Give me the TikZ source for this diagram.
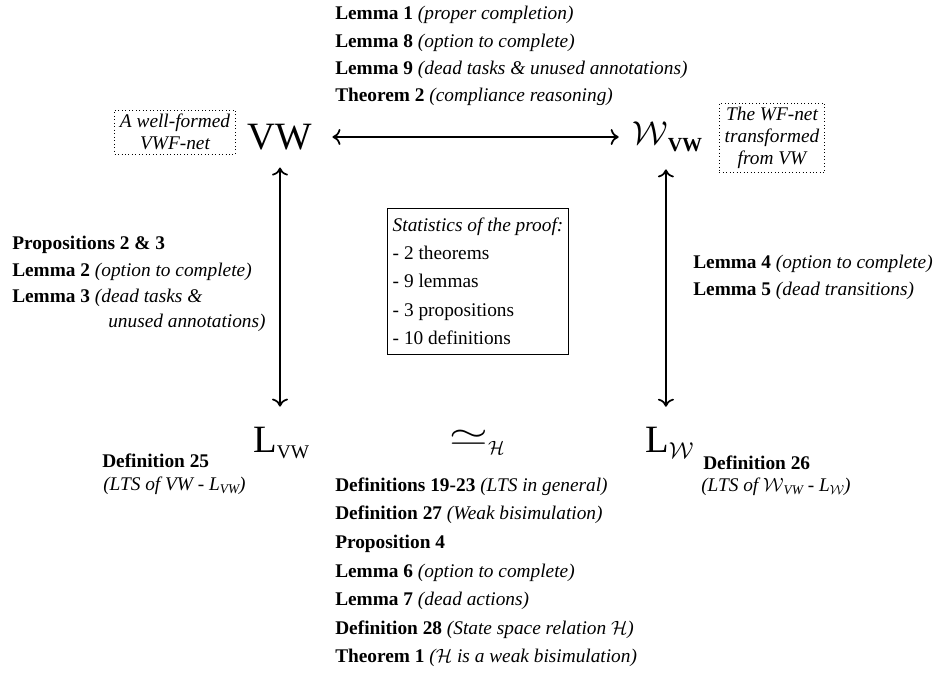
\documentclass[tikz,border=0pt]{standalone}
\usepackage{fontspec}
\usepackage{amsmath}
\usepackage{graphicx}
\setmainfont{Liberation Serif}
\usetikzlibrary{arrows.meta}

% bold item name followed by an italic remark
\newcommand{\itm}[2]{\textbf{#1} \textit{#2}}

\begin{document}
\begin{tikzpicture}[x=0.75pt,y=-0.75pt,
  txt/.style={anchor=base west, inner sep=0pt, font=\fontsize{14.5}{17}\selectfont},
  big/.style={inner sep=0pt, font=\fontsize{29}{30}\selectfont},
  note/.style={draw, dotted, line width=0.6pt, align=center,
    font=\fontsize{14.5}{16.5}\selectfont\itshape, inner xsep=4pt, inner ysep=3pt},
  stat/.style={draw, line width=0.6pt, align=left, anchor=north west,
    font=\fontsize{14.5}{21.2}\selectfont, inner xsep=4pt, inner ysep=7pt},
  dbl/.style={{Computer Modern Rightarrow[length=6pt,width=12pt]}-{Computer Modern Rightarrow[length=6pt,width=12pt]}, line width=1.3pt}
]
\useasboundingbox (0,0) rectangle (936,673);

% the four corner objects and the bisimulation sign
\node[big] (vw) at (280,137) {VW};
\node[big, anchor=west] (wvw) at (632,137) {$\mathcal{W}$\raisebox{-5pt}{\fontsize{15}{15}\selectfont\textbf{VW}}};
\node[big, anchor=west] (lvw) at (253,443) {L\raisebox{-5pt}{\fontsize{14.5}{14.5}\selectfont VW}};
\node[big, anchor=west] (lw) at (645,443) {L\raisebox{-5pt}{\fontsize{17}{17}\selectfont$\mathcal{W}$}};
\node[big] (sim) at (477,442) {\scalebox{1.5}[1]{$\simeq$}\raisebox{-7pt}{\fontsize{14}{14}\selectfont$\mathcal{H}$}};

% connectors
\draw[dbl, shorten <=15pt, shorten >=10pt] (vw.east) -- (wvw.west);
\draw[dbl, shorten <=13pt, shorten >=15pt] (vw.south) -- (vw.south |- lvw.north);
\draw[dbl, shorten <=13pt, shorten >=15pt] ([xshift=-1pt]wvw.south) -- ([xshift=-1pt]wvw.south |- lw.north);

% side notes
\node[note] (nleft) at (175,132) {A well-formed\\VWF-net};
\node[note] (nright) at (772,138) {The WF-net\\transformed\\from VW};

% statistics box
\node[stat] (stats) at (387,208) {\textit{Statistics of the proof:}\\- 2 theorems\\- 9 lemmas\\- 3 propositions\\- 10 definitions};

% top block
\node[txt] (t1) at (335,20) {\itm{Lemma 1}{(proper completion)}};
\node[txt] (t2) at (335,48) {\itm{Lemma 8}{(option to complete)}};
\node[txt] (t3) at (335,75) {\itm{Lemma 9}{(dead tasks \& unused annotations)}};
\node[txt] (t4) at (335,102) {\itm{Theorem 2}{(compliance reasoning)}};

% left block
\node[txt] (l1) at (12,250) {\textbf{Propositions 2 \& 3}};
\node[txt] (l2) at (12,277) {\itm{Lemma 2}{(option to complete)}};
\node[txt] (l3) at (12,303) {\itm{Lemma 3}{(dead tasks \&}};
\node[txt] (l4) at (108,328) {\textit{unused annotations)}};

% right block
\node[txt] (r1) at (693,269) {\itm{Lemma 4}{(option to complete)}};
\node[txt] (r2) at (693,296) {\itm{Lemma 5}{(dead transitions)}};

% definitions of the two transition systems
\node[txt] (d25) at (102,468) {\textbf{Definition 25}};
\node[txt] (d25b) at (103,491) {\textit{(LTS of VW - L\raisebox{-2pt}{\fontsize{10}{10}\selectfont VW})}};
\node[txt] (d26) at (703,470) {\textbf{Definition 26}};
\node[txt] (d26b) at (701,492) {\textit{(LTS of $\mathcal{W}$\raisebox{-2pt}{\fontsize{10}{10}\selectfont VW} - L\raisebox{-2pt}{\fontsize{10}{10}\selectfont$\mathcal{W}$})}};

% bottom block
\node[txt] (b1) at (335,492) {\itm{Definitions 19-23}{(LTS in general)}};
\node[txt] (b2) at (335,520) {\itm{Definition 27}{(Weak bisimulation)}};
\node[txt] (b3) at (335,549) {\textbf{Proposition 4}};
\node[txt] (b4) at (335,577) {\itm{Lemma 6}{(option to complete)}};
\node[txt] (b5) at (335,605) {\itm{Lemma 7}{(dead actions)}};
\node[txt] (b6) at (335,634) {\itm{Definition 28}{(State space relation $\mathcal{H}$)}};
\node[txt] (b7) at (335,662) {\itm{Theorem 1}{($\mathcal{H}$ is a weak bisimulation)}};
\end{tikzpicture}
\end{document}
